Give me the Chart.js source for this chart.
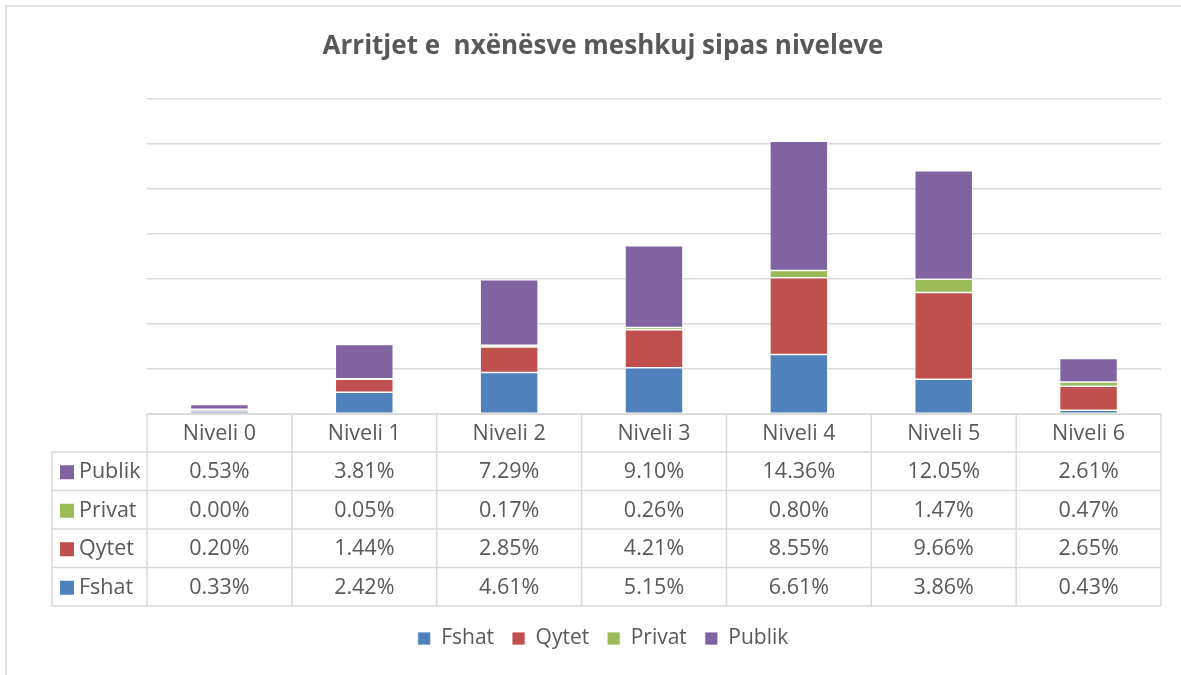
<!DOCTYPE html>
<html>
<head>
<meta charset="utf-8">
<script src="https://cdn.jsdelivr.net/npm/chart.js@4.4.1/dist/chart.umd.min.js"></script>
<style>
html,body{margin:0;padding:0;background:#fff;}
#wrap{width:1181px;height:675px;position:relative;}
</style>
</head>
<body>
<div id="wrap"><canvas id="c" width="1181" height="675"></canvas></div>
<script>
const categories = ['Niveli 0','Niveli 1','Niveli 2','Niveli 3','Niveli 4','Niveli 5','Niveli 6'];
const fshat  = [0.33, 2.42, 4.61, 5.15, 6.61, 3.86, 0.43];
const qytet  = [0.20, 1.44, 2.85, 4.21, 8.55, 9.66, 2.65];
const privat = [0.00, 0.05, 0.17, 0.26, 0.80, 1.47, 0.47];
const publik = [0.53, 3.81, 7.29, 9.10, 14.36, 12.05, 2.61];
const titleText = 'Arritjet e  nxënësve meshkuj sipas niveleve';

const COLORS = {Fshat:'#4f81bd', Qytet:'#c0504d', Privat:'#9bbb59', Publik:'#8064a2'};
const FONT = 'Open Sans';
const TXT = '#595959';
const LINE = '#d9d9d9';

const series = [
  {label:'Fshat', data:fshat},
  {label:'Qytet', data:qytet},
  {label:'Privat', data:privat},
  {label:'Publik', data:publik}
];
const tableRows = ['Publik','Privat','Qytet','Fshat'];

const framePlugin = {
  id:'frame',
  beforeDraw(chart){
    const ctx = chart.ctx;
    ctx.save();
    ctx.strokeStyle = LINE; ctx.lineWidth = 1.5;
    ctx.beginPath();
    ctx.moveTo(5,6); ctx.lineTo(1181,6);
    ctx.moveTo(6,5); ctx.lineTo(6,675);
    ctx.stroke();
    ctx.restore();
  }
};

const tablePlugin = {
  id:'dataTable',
  afterDraw(chart){
    const ctx = chart.ctx;
    const xs = chart.scales.x;
    const area = chart.chartArea;
    const left = area.left, right = area.right;
    const n = categories.length;
    const w = (right-left)/n;
    const top = area.bottom;
    const hdrH = 38;
    const rowH = 38.5;
    const keyLeft = 52;
    const bottom = top + hdrH + rowH*tableRows.length;
    ctx.save();
    ctx.strokeStyle = LINE; ctx.lineWidth = 1.5;
    ctx.beginPath();
    ctx.moveTo(left, top); ctx.lineTo(right, top);
    for (let r=0; r<=tableRows.length; r++){
      const y = top + hdrH + r*rowH;
      ctx.moveTo(keyLeft, y); ctx.lineTo(right, y);
    }
    for (let i=0;i<=n;i++){
      const x = left + i*w;
      ctx.moveTo(x, top); ctx.lineTo(x, bottom);
    }
    ctx.moveTo(keyLeft, top+hdrH); ctx.lineTo(keyLeft, bottom);
    ctx.stroke();

    ctx.fillStyle = TXT;
    ctx.font = '21.5px "' + FONT + '"';
    ctx.textAlign = 'center';
    ctx.textBaseline = 'middle';
    for (let i=0;i<n;i++){
      const cx = xs.getPixelForValue(i);
      ctx.fillText(categories[i], cx, top + hdrH/2 + 1);
    }
    tableRows.forEach((name, r) => {
      const ds = series.find(s => s.label === name);
      const cy = top + hdrH + r*rowH + rowH/2 + 1;
      ctx.fillStyle = COLORS[name];
      ctx.fillRect(60, cy-7, 14, 14);
      ctx.fillStyle = TXT;
      ctx.textAlign = 'left';
      ctx.fillText(name, 79, cy);
      ctx.textAlign = 'center';
      for (let i=0;i<n;i++){
        const cx = xs.getPixelForValue(i);
        ctx.fillText(ds.data[i].toFixed(2) + '%', cx, cy);
      }
    });
    ctx.restore();
  }
};

new Chart(document.getElementById('c'), {
  type:'bar',
  data:{
    labels: categories,
    datasets: series.map(s => ({
      label: s.label,
      data: s.data,
      backgroundColor: COLORS[s.label],
      borderColor: '#ffffff',
      borderWidth: 0.75,
      borderSkipped: false,
      categoryPercentage: 1.0,
      barPercentage: 0.4
    }))
  },
  options:{
    responsive:false,
    animation:false,
    layout:{padding:{left:45, right:20, top:0, bottom:16}},
    plugins:{
      title:{
        display:true, text:titleText, color:TXT,
        font:{family:FONT, size:26, weight:'bold'},
        padding:{top:31, bottom:37}
      },
      legend:{
        position:'bottom',
        labels:{
          color:TXT, font:{family:FONT, size:21},
          boxWidth:13, boxHeight:13, padding:18
        }
      },
      tooltip:{enabled:false}
    },
    scales:{
      x:{
        stacked:true,
        grid:{display:false},
        border:{display:false},
        ticks:{display:false},
        afterFit(scale){ scale.height = 196; }
      },
      y:{
        stacked:true,
        min:0, max:35,
        ticks:{display:false, stepSize:5},
        grid:{color:LINE, lineWidth:1.5, drawTicks:false},
        border:{display:false},
        afterFit(scale){ scale.width = 102; }
      }
    }
  },
  plugins:[framePlugin, tablePlugin]
});
</script>
</body>
</html>
